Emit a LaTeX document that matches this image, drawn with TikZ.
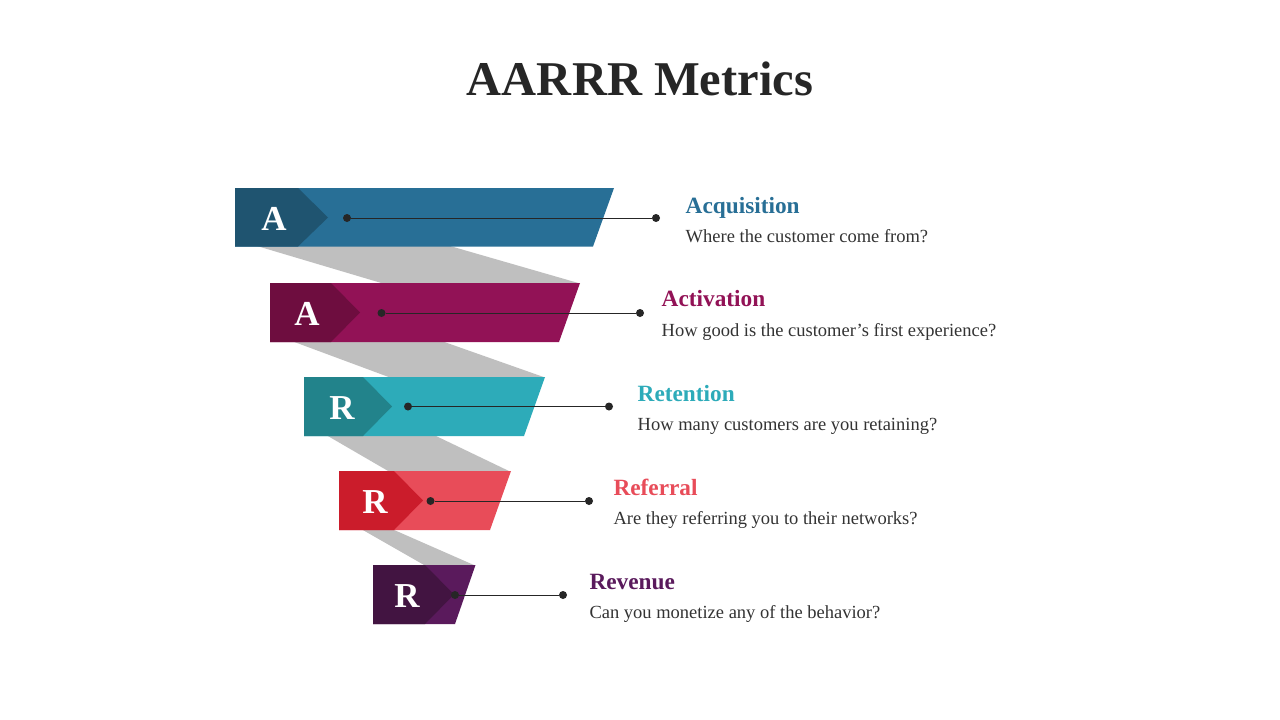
\documentclass[tikz,border=0pt]{standalone}
\usepackage{fontspec}
\setmainfont{Liberation Serif}
\definecolor{blueL}{HTML}{286F96}
\definecolor{blueD}{HTML}{1F5470}
\definecolor{magL}{HTML}{921256}
\definecolor{magD}{HTML}{6E0D3F}
\definecolor{tealL}{HTML}{2DABB9}
\definecolor{tealD}{HTML}{22838B}
\definecolor{redL}{HTML}{E84C59}
\definecolor{redD}{HTML}{CB1C2B}
\definecolor{purL}{HTML}{5A1A5C}
\definecolor{purD}{HTML}{421441}
\definecolor{band}{HTML}{BFBFBF}
\definecolor{ink}{HTML}{262626}
\definecolor{txt}{HTML}{333333}
\begin{document}
\begin{tikzpicture}[x=1pt,y=-1pt,
  dotnode/.style={circle,fill=ink,inner sep=0pt,minimum size=8pt},
  linkline/.style={draw=ink,line width=1pt},
  letter/.style={anchor=base,inner sep=0pt,text=white,font=\fontsize{35}{40}\selectfont\bfseries},
  head/.style={anchor=base west,inner sep=0pt,font=\fontsize{23.3}{28}\selectfont\bfseries},
  desc/.style={anchor=base west,inner sep=0pt,text=txt,font=\fontsize{18.5}{22}\selectfont},
  title/.style={anchor=base,inner sep=0pt,text=ink,font=\fontsize{48.5}{58}\selectfont\bfseries}]
\useasboundingbox[fill=white] (0,0) rectangle (1280,720);

\node[title] (title) at (640,95) {AARRR Metrics};

% gray bands
\fill[band] (257,246) -- (450,246) -- (580,283.5) -- (383,283.5) -- cycle;
\fill[band] (293,341.5) -- (443,341.5) -- (545,377.5) -- (390,377.5) -- cycle;
\fill[band] (327,435.5) -- (435,435.5) -- (510,471.5) -- (389,471.5) -- cycle;
\fill[band] (362,529.5) -- (393,529.5) -- (475,565.5) -- (425,565.5) -- cycle;

% bars
\fill[blueL] (235,188) -- (614,188) -- (593,246.5) -- (235,246.5) -- cycle;
\fill[blueD] (235,188) -- (298,188) -- (328,217.5) -- (298,246.5) -- (235,246.5) -- cycle;
\fill[magL] (270,283) -- (580,283) -- (559,342) -- (270,342) -- cycle;
\fill[magD] (270,283) -- (331,283) -- (360,312.5) -- (331,342) -- (270,342) -- cycle;
\fill[tealL] (304,377) -- (545,377) -- (524,436) -- (304,436) -- cycle;
\fill[tealD] (304,377) -- (363,377) -- (392,406.5) -- (363,436) -- (304,436) -- cycle;
\fill[redL] (339,471) -- (511,471) -- (490,530) -- (339,530) -- cycle;
\fill[redD] (339,471) -- (394,471) -- (423,500.5) -- (394,530) -- (339,530) -- cycle;
\fill[purL] (373,565) -- (475.5,565) -- (455,624) -- (373,624) -- cycle;
\fill[purD] (373,565) -- (425,565) -- (454,594.5) -- (425,624) -- (373,624) -- cycle;

% letters
\node[letter] (l1) at (274,230.3) {A};
\node[letter] (l2) at (307,325.3) {A};
\node[letter] (l3) at (342,419.3) {R};
\node[letter] (l4) at (375,513.3) {R};
\node[letter] (l5) at (407,607.3) {R};

% connectors
\node[dotnode] (a1) at (347,218) {};
\node[dotnode] (b1) at (656,218) {};
\node[dotnode] (a2) at (381.5,313) {};
\node[dotnode] (b2) at (640,313) {};
\node[dotnode] (a3) at (408,406.5) {};
\node[dotnode] (b3) at (609,406.5) {};
\node[dotnode] (a4) at (430.5,501) {};
\node[dotnode] (b4) at (589,501) {};
\node[dotnode] (a5) at (455,595) {};
\node[dotnode] (b5) at (563,595) {};
\draw[linkline] (a1) -- (b1);
\draw[linkline] (a2) -- (b2);
\draw[linkline] (a3) -- (b3);
\draw[linkline] (a4) -- (b4);
\draw[linkline] (a5) -- (b5);

% texts
\node[head,text=blueL] (h1) at (685.5,213.3) {Acquisition};
\node[desc] (d1) at (685.5,242.3) {Where the customer come from?};
\node[head,text=magL] (h2) at (661.5,306.7) {Activation};
\node[desc] (d2) at (661.5,336.7) {How good is the customer’s first experience?};
\node[head,text=tealL] (h3) at (637.5,401.7) {Retention};
\node[desc] (d3) at (637.5,430.3) {How many customers are you retaining?};
\node[head,text=redL] (h4) at (613.3,495) {Referral};
\node[desc] (d4) at (613.3,524) {Are they referring you to their networks?};
\node[head,text=purL] (h5) at (589.3,589) {Revenue};
\node[desc] (d5) at (589.3,618.3) {Can you monetize any of the behavior?};
\end{tikzpicture}
\end{document}
